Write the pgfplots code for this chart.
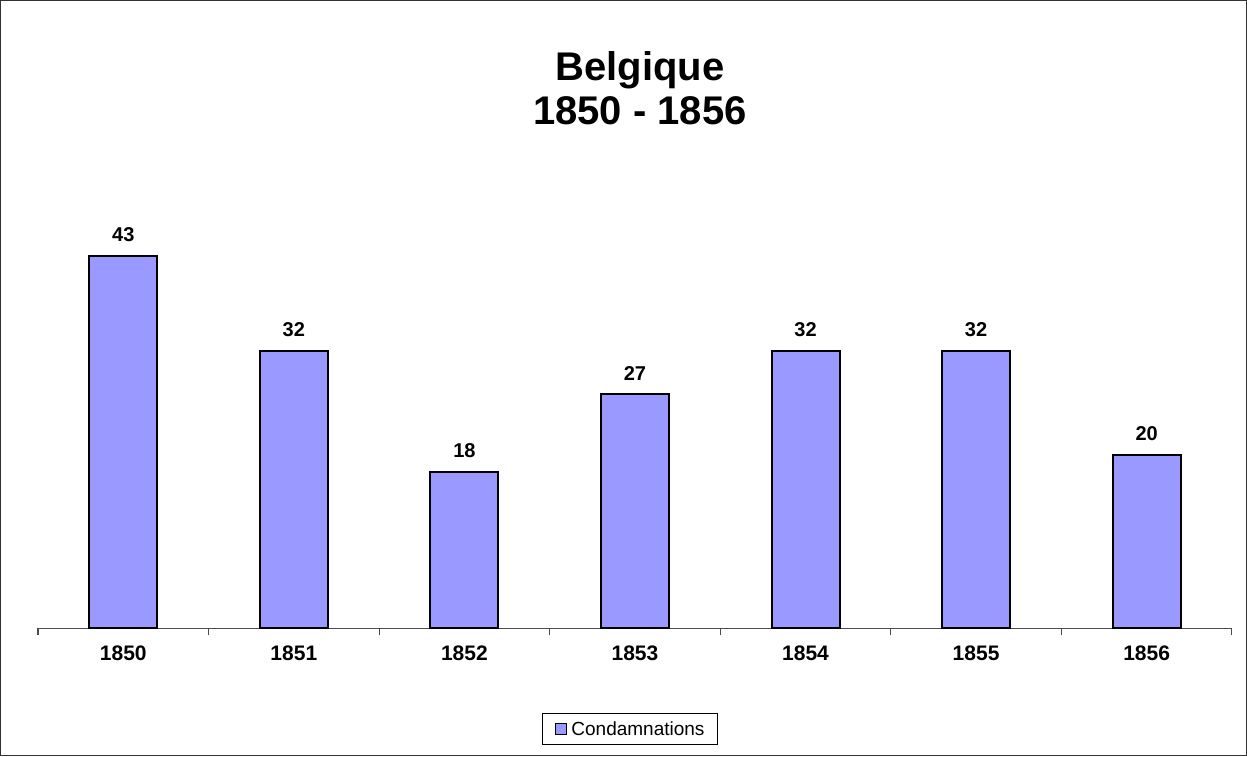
\documentclass[border=0pt]{standalone}
\usepackage{pgfplots}
\pgfplotsset{compat=1.18}
\usepackage{fontspec}
\setmainfont{Liberation Sans}
\definecolor{barc}{HTML}{9999FF}
\begin{document}
\begin{tikzpicture}[x=1pt,y=1pt]
\useasboundingbox (0,0) rectangle (1247,756);
\draw[line width=1pt, black!80] (0.5,0.5) rectangle (1246.5,755.5);
\node[align=center, font=\fontsize{40}{44}\selectfont\bfseries] at (640,756-88) {Belgique\\1850 - 1856};
\begin{axis}[
  at={(38pt,128pt)}, anchor=south west,
  scale only axis, width=1194pt, height=432.5pt,
  xmin=-0.5, xmax=6.5, ymin=0, ymax=50,
  axis y line=none,
  axis x line*=bottom,
  x axis line style={black!70, line width=1pt, -},
  xtick={0,...,6},
  xticklabels={1850,1851,1852,1853,1854,1855,1856},
  major tick length=0pt,
  minor xtick={-0.5,0.5,...,6.5},
  minor tick length=7pt,
  tick align=outside,
  tick style={black!70, line width=1pt},
  xticklabel style={font=\fontsize{21}{24}\selectfont\bfseries, yshift=-14pt},
  /pgf/number format/assume math mode=true,
  ybar, bar width=68pt,
  nodes near coords,
  nodes near coords style={font=\fontsize{20}{24}\selectfont\bfseries, yshift=10pt},
  legend style={at={(0.4958,-0.2335)}, anchor=center, draw=black, line width=1pt,
    font=\fontsize{19}{22}\selectfont, inner xsep=11pt, inner ysep=6pt},
  legend image code/.code={\path (-1pt,0pt) (13pt,0pt);\draw[fill=barc, draw=black, line width=1.4pt] (0pt,-5.5pt) rectangle (11pt,5.5pt);},
  legend cell align=left,
]
\addplot[fill=barc, draw=black, line width=2pt] coordinates {(0,43) (1,32) (2,18) (3,27) (4,32) (5,32) (6,20)};
\addlegendentry{Condamnations}
\end{axis}
\end{tikzpicture}
\end{document}
